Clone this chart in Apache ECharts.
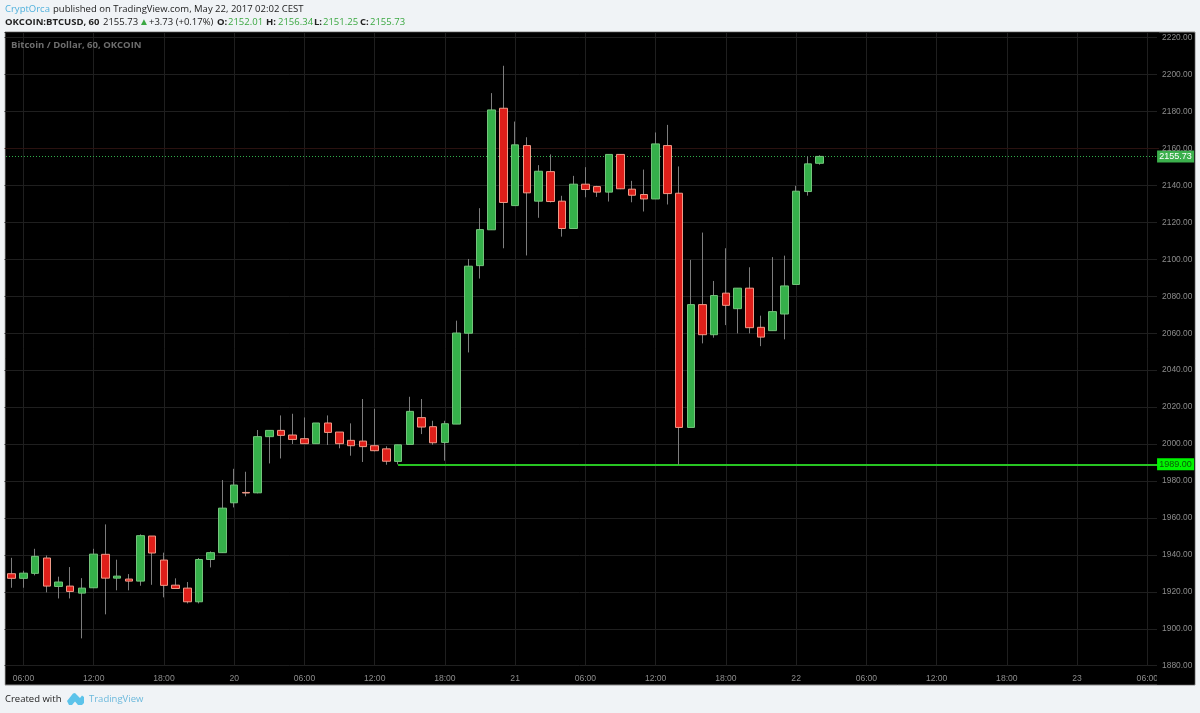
<!DOCTYPE html>
<html><head><meta charset="utf-8">
<style>html,body{margin:0;padding:0;background:#f0f3f6}#c{width:1200px;height:713px}</style>
<script src="https://cdn.jsdelivr.net/npm/echarts@6/dist/echarts.min.js"></script>
</head><body><div id="c"></div>
<script>
const dayLabels = {0:'19',24:'20',48:'21',72:'22',96:'23',120:'24'};
const categories = [];
for (let h = 4; h <= 103; h++) {
  categories.push(dayLabels[h] || (String(h % 24).padStart(2,'0') + ':00'));
}
const yTicksMin = 1880, yTicksMax = 2223;
const opens = [1929.8,1927.3,1930,1938.3,1922.9,1923.1,1919.3,1922.2,1940.3,1927.4,1926.9,1925.8,1950.2,1937.2,1923.6,1922,1914.6,1937.5,1941.2,1968.2,1973.8,1973.6,2004,2007.4,2004.9,2002.9,2000.2,2011.4,2006.5,2002,2001.6,1999.1,1997.4,1990.6,1999.8,2014.3,2009.4,2000.9,2010.8,2060,2096.6,2116,2181.8,2129.1,2161.6,2131.5,2147.5,2131.5,2116.7,2140.7,2139.4,2136.4,2156.8,2138,2135.1,2132.7,2161.6,2135.8,2009,2075.5,2059.2,2081.7,2073.3,2084.4,2063.2,2061.4,2070.4,2086.4,2136.7,2152.01];
const closes = [1927.3,1930.1,1939.2,1923.1,1925.3,1920.2,1922,1940.4,1927.4,1928.5,1925.8,1950.4,1941,1923.5,1921.8,1914.6,1937.5,1941.2,1965.3,1977.8,1973.5,2004,2007.4,2004.7,2002.5,2000.2,2011.4,2006.3,2000.2,1999.1,1998.6,1996.4,1990.7,1999.6,2017.7,2009.2,2000.7,2011,2060.1,2096.3,2116.1,2180.9,2130.8,2162,2136,2147.7,2131.3,2116.7,2140.7,2137.8,2136.4,2156.8,2138.2,2134.7,2132.7,2162.5,2135.6,2009,2075.5,2059.2,2080.4,2075.1,2084.4,2063,2057.9,2071.7,2085.6,2136.9,2151.7,2155.73];
const lows = [1922.2,1922.2,1928.9,1919.7,1916.4,1916.4,1894.8,1922,1907.8,1920.8,1920.8,1923.3,1923.8,1917,1921.8,1913.7,1913.7,1933.2,1941,1965.7,1971.7,1973.3,1989.5,1992.2,2000,2000,2000.2,1999.5,1997.7,1993.7,1990.3,1996,1988.8,1989,1999.8,2005.4,1999.6,1991,2010.8,2049.6,2089.6,2116,2106,2129.1,2102.1,2122.5,2130.8,2112.3,2116.7,2133.6,2133.8,2131.3,2138,2130.9,2125.9,2132.7,2129.7,1988.8,2009,2054.5,2057.6,2064.4,2059.9,2059.9,2053,2061.4,2056.7,2086.4,2134.5,2151.25];
const highs = [1938.4,1931.4,1943.3,1939.7,1928.2,1933.4,1927.4,1943.3,1956.5,1937.4,1929.6,1951.1,1950.2,1941.2,1927.3,1925.3,1938.3,1941.9,1980.5,1986.6,1985,2007.6,2007.4,2015.5,2016.4,2014.4,2011.4,2015.5,2006.5,2011.2,2024.4,2019.1,1998.8,1999.6,2025.6,2024.4,2012.6,2012.6,2066.8,2100.2,2127.7,2190,2204.8,2174.6,2166.1,2151,2156.8,2134.4,2145.2,2149.9,2139.8,2156.8,2156.8,2142.5,2148.6,2168.7,2172.8,2150.3,2099.7,2114.5,2088.3,2106,2084.4,2095.7,2069.5,2101.2,2102,2139.8,2155.7,2156.34];
const lastPrice = 2155.73, supportPrice = 1989, redLevel = 2160;
const supportStartIndex = 34;

const font = '"Liberation Sans", Arial, sans-serif';
const uiFont = '"Open Sans", "Noto Sans", sans-serif';
const green = '#35b04a', greenEdge = '#74c47c', red = '#df1f1a', redEdge = '#f09a88';
const wickData = opens.map((o,i)=>[i+1,o,closes[i],lows[i],highs[i]]);
const bodyData = opens.map((o,i)=>{const c=closes[i];return [i+1,o,c,Math.min(o,c),Math.max(o,c)];});
const t = (x,y,text,fill,weight,size,family)=>({type:'text',x,y,z:10,style:{text,fill,font:(weight||'normal')+' '+(size||9.5)+'px '+(family||uiFont),textVerticalAlign:'middle'}});
const hdr='#3ba842', ink='#222';
const candleEncode = {x:0,y:[1,2,3,4]};

const chart = echarts.init(document.getElementById('c'),null,{renderer:'canvas'});
chart.setOption({
  animation:false,
  backgroundColor:'#f0f3f6',
  grid:{left:-1.7,top:32.16,width:1160.78,height:633.54,containLabel:false},
  xAxis:{type:'category',data:categories,boundaryGap:false,z:1,
    axisLine:{show:false},axisTick:{show:false},
    axisLabel:{color:'#8c8c8c',fontSize:8.6,fontFamily:font,margin:8,hideOverlap:false,
      interval:(i)=>(i+4)%6===0},
    splitLine:{show:true,interval:(i)=>(i+4)%6===0,lineStyle:{color:'#1f1f1f',width:1}}},
  yAxis:[
    {type:'value',min:yTicksMin,max:yTicksMax,interval:20,position:'right',z:1,
     axisLine:{show:false},axisTick:{show:false},axisLabel:{show:false},
     splitLine:{show:true,lineStyle:{color:'#1f1f1f',width:1}}},
    {type:'value',min:yTicksMin,max:yTicksMax,interval:20,position:'right',z:5,
     axisLine:{show:false},axisTick:{show:false},splitLine:{show:false},
     axisLabel:{color:'#8c8c8c',fontSize:8.4,fontFamily:font,margin:3,showMaxLabel:false,
       formatter:(v)=>v.toFixed(2)}}
  ],
  series:[
    {type:'candlestick',name:'wicks',z:2,barWidth:1,data:wickData,encode:candleEncode,clip:false,
     itemStyle:{color:'#7d7d7d',color0:'#7d7d7d',borderColor:'#7d7d7d',borderColor0:'#7d7d7d',borderColorDoji:'#7d7d7d',borderWidth:1},
     markLine:{silent:true,symbol:'none',z:1.8,animation:false,
       data:[
        [{coord:[0,redLevel],lineStyle:{color:'#2a1210',width:1,type:'solid'},label:{show:false}},{coord:[99,redLevel]}],
        [{coord:[0,lastPrice],lineStyle:{color:'#2fae4a',width:1,type:[1,2]},
          label:{show:true,position:'end',distance:16.5,formatter:'2155.73',color:'#fff',backgroundColor:'#3cb04d',
                 fontFamily:font,fontSize:9,width:37,height:12,lineHeight:12,align:'center',verticalAlign:'middle'}},
         {coord:[99,lastPrice]}],
        [{coord:[supportStartIndex,supportPrice],lineStyle:{color:'#27c422',width:2,type:'solid'},
          label:{show:true,position:'end',distance:16.5,formatter:'1989.00',color:'#0a5a0a',backgroundColor:'#00f500',
                 fontFamily:font,fontSize:9,width:37,height:12,lineHeight:12,align:'center',verticalAlign:'middle'}},
         {coord:[99,supportPrice]}]
       ]}},
    {type:'candlestick',name:'bodies',z:2.5,barWidth:8,data:bodyData,encode:candleEncode,clip:false,
     itemStyle:{color:green,color0:red,borderColor:greenEdge,borderColor0:redEdge,borderColorDoji:redEdge,borderWidth:1}}
  ],
  graphic:{elements:[
    {type:'rect',shape:{x:5,y:32,width:1190,height:653},z:-1,style:{fill:'#000',stroke:'#8a8a8a',lineWidth:1}},
    {type:'rect',shape:{x:1157,y:33,width:37.5,height:651.5},z:1.5,style:{fill:'#000'}},
    {type:'rect',shape:{x:0,y:32,width:4.5,height:653},z:3,style:{fill:'#f0f3f6'}},
    t(5,9,'CryptOrca','#4fb0dc'),
    t(53,9,'published on TradingView.com, May 22, 2017 02:02 CEST',ink),
    t(5,22,'OKCOIN:BTCUSD, 60',ink,'bold'),
    t(103,22,'2155.73',ink),
    t(139,22,'\u25B2',hdr,'normal',10,font),
    t(149,22,'+3.73 (+0.17%)',ink),
    t(217,22,'O:',ink,'bold'),t(228,22,'2152.01',hdr),
    t(266,22,'H:',ink,'bold'),t(278,22,'2156.34',hdr),
    t(314,22,'L:',ink,'bold'),t(323,22,'2151.25',hdr),
    t(360,22,'C:',ink,'bold'),t(370,22,'2155.73',hdr),
    t(11,45.5,'Bitcoin / Dollar, 60, OKCOIN','#6e6e6e','bold',9.5,uiFont),
    t(5,699.5,'Created with',ink),
    {type:'polygon',z:10,shape:{points:[[67,701],[73,693.5],[75,693],[80,698],[82,695.5],[84,697],[84,703],[82,705],[78,705],[75,701.5],[72,705],[69,705]]},style:{fill:'#5cc3ea'}},
    t(89,699.5,'TradingView','#6cb9dc')
  ]}
});
</script></body></html>
